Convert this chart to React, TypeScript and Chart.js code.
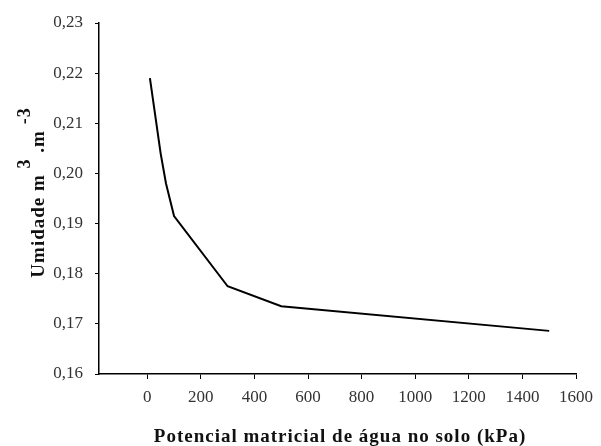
import React, { useEffect, useRef } from "react";
import { Chart, registerables } from "chart.js";

Chart.register(...registerables);

const potencial = [10, 50, 70, 100, 300, 500, 1500];
const umidade = [0.219, 0.204, 0.198, 0.1915, 0.1775, 0.1735, 0.1686];
const xTickValues = [0, 200, 400, 600, 800, 1000, 1200, 1400, 1600];
const yTickValues = [0.16, 0.17, 0.18, 0.19, 0.2, 0.21, 0.22, 0.23];
const xTitle = "Potencial matricial de água no solo (kPa)";
const yTitleParts = [
  { text: "Umidade m ", sup: false },
  { text: "3", sup: true },
  { text: " .m ", sup: false },
  { text: "-3", sup: true },
];

const FONT = "'Liberation Serif', 'Times New Roman', serif";

const titlesPlugin = {
  id: "customTitles",
  afterDraw(chart: any) {
    const ctx = chart.ctx;
    const area = chart.chartArea;
    ctx.save();
    ctx.fillStyle = "#111";
    (ctx as any).letterSpacing = "1px";
    // x title
    ctx.font = `bold 19px ${FONT}`;
    ctx.textAlign = "center";
    ctx.textBaseline = "alphabetic";
    ctx.fillText(xTitle, 340, 442);
    // y title with superscripts
    ctx.translate(44, (area.top + area.bottom) / 2 - 6);
    ctx.rotate(-Math.PI / 2);
    let total = 0;
    const widths = yTitleParts.map((p) => {
      ctx.font = `bold ${p.sup ? 18 : 19}px ${FONT}`;
      const w = ctx.measureText(p.text).width;
      total += w;
      return w;
    });
    let x = -total / 2;
    ctx.textAlign = "left";
    yTitleParts.forEach((p, i) => {
      ctx.font = `bold ${p.sup ? 18 : 19}px ${FONT}`;
      ctx.fillText(p.text, x, p.sup ? -14 : 0);
      x += widths[i];
    });
    ctx.restore();
  },
};

export default function App() {
  const ref = useRef<HTMLCanvasElement | null>(null);
  useEffect(() => {
    if (!ref.current) return;
    const chart = new Chart(ref.current, {
      type: "line",
      data: {
        datasets: [
          {
            data: potencial.map((x, i) => ({ x, y: umidade[i] })),
            borderColor: "#000",
            borderWidth: 2,
            pointRadius: 0,
            tension: 0,
            fill: false,
          },
        ],
      },
      options: {
        animation: false,
        responsive: true,
        maintainAspectRatio: false,
        layout: { padding: { top: 23, right: 19, left: 0, bottom: 0 } },
        plugins: {
          legend: { display: false },
          tooltip: { enabled: false },
        },
        scales: {
          x: {
            type: "linear",
            min: -180,
            max: 1600,
            afterBuildTicks: (scale: any) => {
              scale.ticks = xTickValues.map((v) => ({ value: v }));
            },
            afterFit: (scale: any) => {
              scale.height = 72;
            },
            grid: {
              display: true,
              drawOnChartArea: false,
              drawTicks: true,
              tickLength: 5,
              color: "#000",
            },
            border: { display: true, color: "#000", width: 1.5 },
            ticks: {
              padding: 8,
              color: "#333",
              font: { family: FONT, size: 17 },
              maxRotation: 0,
              autoSkip: false,
              callback: (v: any) => String(v),
            },
          },
          y: {
            type: "linear",
            min: 0.16,
            max: 0.23,
            afterBuildTicks: (scale: any) => {
              scale.ticks = yTickValues.map((v) => ({ value: v }));
            },
            afterFit: (scale: any) => {
              scale.width = 99;
            },
            grid: {
              display: true,
              drawOnChartArea: false,
              drawTicks: true,
              tickLength: 4,
              color: "#000",
            },
            border: { display: true, color: "#000", width: 1.5 },
            ticks: {
              padding: 12,
              color: "#333",
              font: { family: FONT, size: 17 },
              autoSkip: false,
              callback: (v: any) => Number(v).toFixed(2).replace(".", ","),
            },
          },
        },
      },
      plugins: [titlesPlugin],
    });
    return () => chart.destroy();
  }, []);
  return (
    <div style={{ position: "fixed", left: 0, top: 0, width: 601, height: 446, background: "#fff" }}>
      <canvas ref={ref} />
    </div>
  );
}
